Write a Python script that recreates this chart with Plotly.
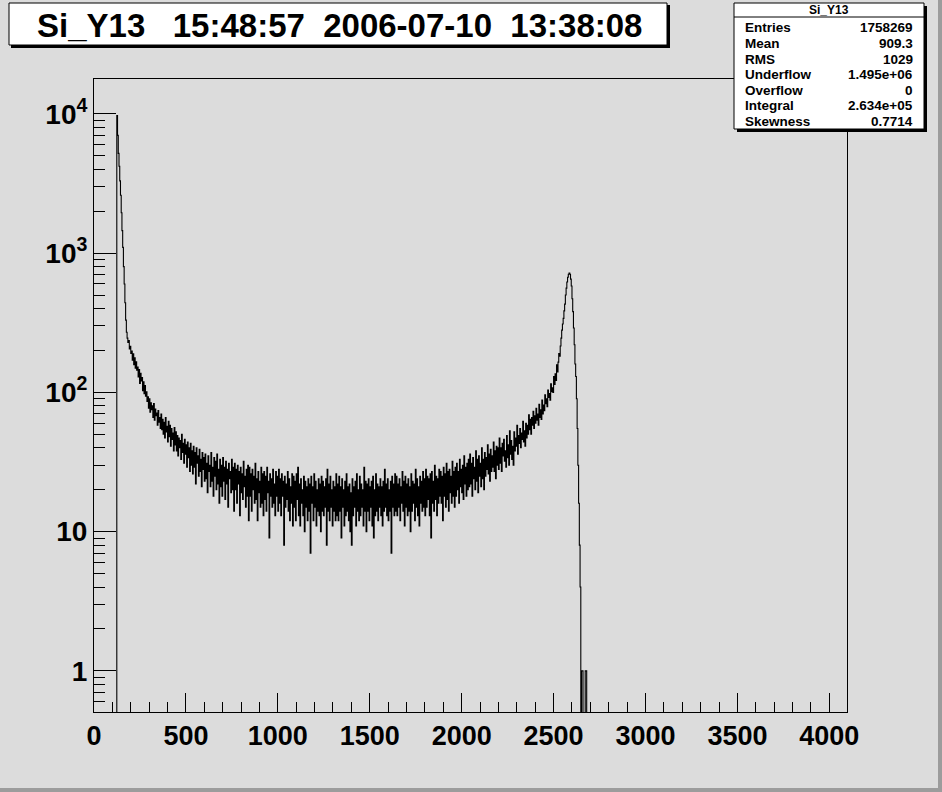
import plotly.graph_objects as go

# ---------------- data ----------------
bin_start = 124          # first non-empty channel edge
bin_width = 4            # channels per drawn bin
x_min, x_max = 0, 4096

counts = [
    # 124
    9700, 7000, 5200, 4200, 3300, 2600, 1950, 1450, 1100, 800, 600, 440, 330, 270, 245, 228, 236, 205, 214, 190,
    # 204
    198, 170, 189, 158, 177, 149, 166, 144, 152, 129, 146, 116, 137, 121, 128, 103, 119, 98, 112, 94,
    # 284
    101, 86, 93, 77, 90, 72, 84, 75, 80, 66, 83, 63, 76, 68, 71, 58, 74, 61, 66, 55,
    # 364
    70, 54, 64, 50, 61, 47, 66, 52, 57, 44, 62, 48, 58, 41, 55, 46, 51, 38, 56, 42,
    # 444
    52, 38, 49, 35, 47, 40, 45, 33, 50, 37, 43, 31, 46, 36, 42, 29, 44, 34, 40, 27,
    # 524
    43, 30, 38, 26, 41, 29, 37, 22, 40, 31, 35, 25, 39, 27, 33, 21, 37, 28, 34, 23,
    # 604
    36, 24, 31, 19, 35, 27, 30, 21, 37, 23, 29, 18, 34, 25, 32, 20, 36, 22, 28, 16,
    # 684
    33, 21, 30, 18, 34, 23, 29, 17, 32, 22, 28, 15, 31, 24, 27, 19, 33, 20, 29, 14,
    # 764
    31, 20, 28, 16, 30, 22, 27, 13, 29, 19, 26, 17, 32, 21, 25, 15, 28, 18, 30, 12,
    # 844
    29, 18, 26, 14, 28, 20, 25, 16, 31, 17, 24, 12, 27, 19, 23, 15, 29, 16, 26, 13,
    # 924
    27, 17, 25, 14, 29, 19, 23, 9, 26, 18, 24, 15, 28, 16, 22, 13, 27, 18, 25, 14,
    # 1004
    28, 16, 24, 13, 26, 18, 23, 8, 25, 15, 22, 17, 27, 14, 24, 12, 21, 16, 26, 11,
    # 1084
    25, 15, 23, 12, 26, 17, 29, 13, 22, 11, 24, 16, 20, 13, 25, 10, 23, 15, 21, 12,
    # 1164
    24, 14, 22, 7, 25, 16, 21, 12, 26, 15, 23, 11, 20, 14, 24, 13, 22, 10, 25, 14,
    # 1244
    23, 13, 21, 15, 24, 8, 28, 14, 22, 12, 25, 15, 20, 11, 23, 14, 21, 12, 26, 13,
    # 1324
    22, 12, 25, 14, 21, 9, 24, 15, 20, 11, 23, 13, 26, 14, 21, 12, 22, 10, 19, 8,
    # 1404
    24, 13, 21, 15, 23, 11, 26, 14, 20, 12, 25, 13, 22, 15, 20, 11, 29, 14, 23, 10,
    # 1484
    22, 14, 24, 12, 21, 15, 23, 11, 25, 9, 20, 13, 26, 14, 22, 12, 21, 15, 24, 13,
    # 1564
    21, 11, 23, 14, 28, 15, 22, 13, 24, 12, 20, 14, 23, 7, 25, 15, 22, 13, 26, 14,
    # 1644
    25, 13, 22, 15, 24, 12, 21, 16, 27, 14, 23, 11, 25, 15, 22, 13, 24, 14, 21, 10,
    # 1724
    26, 14, 23, 16, 22, 12, 28, 15, 24, 13, 21, 11, 25, 16, 23, 14, 27, 15, 24, 13,
    # 1804
    28, 15, 25, 17, 24, 13, 26, 9, 27, 16, 23, 14, 30, 17, 25, 13, 24, 16, 28, 18,
    # 1884
    27, 16, 25, 12, 29, 18, 26, 15, 31, 17, 27, 14, 28, 19, 25, 16, 32, 18, 27, 15,
    # 1964
    29, 18, 31, 20, 27, 16, 33, 21, 28, 19, 30, 17, 35, 22, 29, 18, 31, 20, 33, 21,
    # 2044
    36, 22, 31, 18, 34, 24, 29, 20, 38, 23, 33, 19, 35, 25, 31, 21, 40, 24, 33, 20,
    # 2124
    37, 25, 34, 28, 42, 26, 36, 23, 39, 27, 35, 29, 44, 27, 38, 24, 41, 30, 40, 28,
    # 2204
    47, 31, 40, 27, 43, 35, 46, 32, 38, 29, 49, 34, 42, 30, 53, 36, 45, 33, 41, 30,
    # 2284
    52, 38, 47, 41, 58, 36, 49, 43, 55, 40, 51, 46, 62, 44, 53, 41, 60, 47, 58, 50,
    # 2364
    69, 54, 64, 50, 66, 58, 73, 55, 68, 60, 77, 63, 70, 58, 82, 66, 75, 64, 88, 70,
    # 2444
    81, 74, 96, 83, 90, 79, 104, 92, 98, 88, 115, 101, 108, 100, 130, 114, 136, 122, 158, 140,
    # 2524
    165, 190, 182, 215, 245, 280, 310, 340, 385, 430, 500, 560, 620, 670, 705, 720, 705, 650, 580, 470,
    # 2604
    380, 290, 220, 160, 130, 90, 55, 30, 16, 8, 4, 0, 1, 1, 0, 0, 0, 1, 1,
]

title_text = "Si_Y13\u00a0\u00a0\u00a015:48:57\u00a0\u00a02006-07-10\u00a0\u00a013:38:08"
stats_title = "Si_Y13"
stat_names = ["Entries", "Mean", "RMS", "Underflow", "Overflow", "Integral", "Skewness"]
stat_values = ["1758269", "909.3", "1029", "1.495e+06", "0", "2.634e+05", "0.7714"]

x_tickvals = [0, 500, 1000, 1500, 2000, 2500, 3000, 3500, 4000]
y_tickvals = [1, 10, 100, 1000, 10000]
y_ticktext = ["1", "10", "10<sup>2</sup>", "10<sup>3</sup>", "10<sup>4</sup>"]
y_minor_vals = [m * 10 ** e for e in range(-1, 4) for m in range(2, 10)]

# ---------------- build step line ----------------
edges = [bin_start + i * bin_width for i in range(len(counts) + 1)]
xs = [x_min] + edges + [x_max]
ys = [0] + counts + [0, 0]
floor = 1e-3  # zero bins drawn below frame (clipped)
ys_plot = [v if v > 0 else floor for v in ys]

W, H = 942, 792
L, R, T, B = 94, 847, 79, 712


def px(xp):
    return (xp - L) / (R - L)


def py(yp):
    return (B - yp) / (B - T)


BG = "#dcdcdc"
FONT = "Liberation Sans, Arial, Helvetica, sans-serif"

fig = go.Figure()
fig.add_trace(go.Scatter(
    x=xs, y=ys_plot, mode="lines",
    line=dict(color="black", width=1.1, shape="hv"),
    hoverinfo="skip", showlegend=False,
))

shapes = []
# canvas bevel (right & bottom)
shapes.append(dict(type="rect", xref="paper", yref="paper",
                   x0=px(938), x1=px(943), y0=py(0), y1=py(793),
                   fillcolor="#9c9c9c", line=dict(width=0)))
shapes.append(dict(type="rect", xref="paper", yref="paper",
                   x0=px(-1), x1=px(943), y0=py(788), y1=py(793),
                   fillcolor="#9c9c9c", line=dict(width=0)))
# title box with shadow
shapes.append(dict(type="rect", xref="paper", yref="paper",
                   x0=px(11), x1=px(670), y0=py(5), y1=py(48),
                   fillcolor="black", line=dict(width=0)))
shapes.append(dict(type="rect", xref="paper", yref="paper",
                   x0=px(9), x1=px(667), y0=py(3), y1=py(45),
                   fillcolor="white", line=dict(color="black", width=1)))
# stats box with shadow
shapes.append(dict(type="rect", xref="paper", yref="paper",
                   x0=px(737), x1=px(927), y0=py(6), y1=py(132),
                   fillcolor="black", line=dict(width=0)))
shapes.append(dict(type="rect", xref="paper", yref="paper",
                   x0=px(734), x1=px(924), y0=py(3), y1=py(129),
                   fillcolor="white", line=dict(color="black", width=1)))
shapes.append(dict(type="line", xref="paper", yref="paper",
                   x0=px(734), x1=px(924), y0=py(17), y1=py(17),
                   line=dict(color="black", width=1)))

annotations = []
annotations.append(dict(xref="paper", yref="paper", x=px(339), y=py(25),
                        text=title_text, showarrow=False,
                        xanchor="center", yanchor="middle",
                        font=dict(family=FONT, size=33, color="black", weight="bold")))
annotations.append(dict(xref="paper", yref="paper", x=px(829), y=py(10),
                        text=stats_title, showarrow=False,
                        xanchor="center", yanchor="middle",
                        font=dict(family=FONT, size=12, color="black", weight="bold")))
row_y = [28, 43.5, 59, 74.5, 90, 105.5, 121]
for name, val, yy in zip(stat_names, stat_values, row_y):
    annotations.append(dict(xref="paper", yref="paper", x=px(743), y=py(yy),
                            text=name, showarrow=False,
                            xanchor="left", yanchor="middle",
                            font=dict(family=FONT, size=13.5, color="black", weight="bold")))
    annotations.append(dict(xref="paper", yref="paper", x=px(915), y=py(yy),
                            text=val, showarrow=False,
                            xanchor="right", yanchor="middle",
                            font=dict(family=FONT, size=13.5, color="black", weight="bold")))

xtickfont = dict(family=FONT, size=27, color="black", weight="bold")
ytickfont = dict(family=FONT, size=28, color="black", weight="bold")

fig.update_layout(
    width=W, height=H,
    margin=dict(l=L, r=W - R, t=T, b=H - B, pad=0),
    paper_bgcolor=BG, plot_bgcolor=BG,
    showlegend=False,
    shapes=shapes,
    annotations=annotations,
    xaxis=dict(
        range=[x_min, x_max], showgrid=False, zeroline=False,
        showline=True, linecolor="black", linewidth=1, mirror=True,
        tickmode="array", tickvals=x_tickvals,
        ticktext=[str(v) for v in x_tickvals],
        ticks="inside", ticklen=19, tickcolor="black", tickwidth=1,
        minor=dict(dtick=100, tick0=0, ticks="inside", ticklen=10,
                   tickcolor="black", tickwidth=1, showgrid=False),
        tickfont=xtickfont,
    ),
    yaxis=dict(
        type="log", range=[-0.295, 4.25], showgrid=False, zeroline=False,
        showline=True, linecolor="black", linewidth=1, mirror=True,
        tickmode="array", tickvals=y_tickvals, ticktext=y_ticktext,
        ticks="inside", ticklen=22, tickcolor="black", tickwidth=1,
        minor=dict(tickmode="array", tickvals=y_minor_vals, ticks="inside",
                   ticklen=11, tickcolor="black", tickwidth=1, showgrid=False),
        tickfont=ytickfont,
    ),
)

fig.write_html("out.html",
               config={"displayModeBar": False, "staticPlot": True},
               post_script="document.body.style.margin='0';document.body.style.overflow='hidden';")
